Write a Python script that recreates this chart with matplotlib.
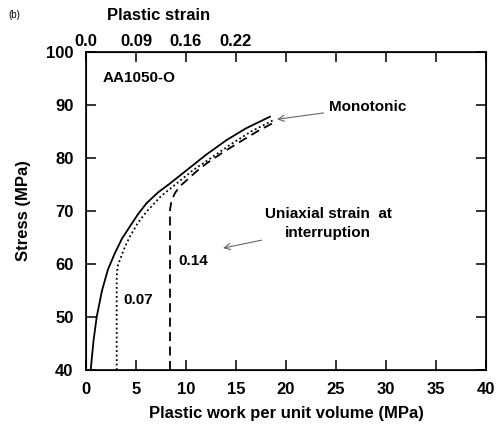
import numpy as np
import matplotlib.pyplot as plt

plt.rcParams['font.family'] = ['Liberation Sans', 'DejaVu Sans']
plt.rcParams['font.weight'] = 'bold'
plt.rcParams['font.size'] = 12

# monotonic curve (plastic work, stress)
mono_w = [0.47, 0.75, 1.07, 1.6, 2.2, 2.9, 3.6, 4.4, 5.2, 6.07, 7.2, 8.4, 10.07, 12.0, 14.07, 16.0, 18.4]
mono_s = [40.0, 45.5, 50.0, 55.0, 59.0, 62.1, 64.8, 67.1, 69.4, 71.5, 73.5, 75.2, 77.7, 80.6, 83.4, 85.6, 87.8]

# interrupted at strain 0.07
w07 = [3.07, 3.07, 3.15, 3.4, 3.9, 4.4, 5.2, 6.07, 7.5, 9.07, 10.7, 12.5, 14.5, 16.5, 18.8]
s07 = [40.0, 57.6, 59.5, 60.8, 63.3, 65.2, 67.8, 69.9, 72.8, 75.2, 77.7, 80.0, 82.6, 85.0, 87.2]

# interrupted at strain 0.14
w14 = [8.4, 8.4, 8.55, 8.9, 9.4, 10.07, 11.0, 12.07, 13.8, 15.7, 17.2, 18.9]
s14 = [40.0, 70.2, 71.9, 73.4, 74.7, 75.8, 77.4, 79.0, 81.2, 83.4, 85.1, 86.8]

top_ticks = [0, 5, 10, 15, 20, 25, 30, 35, 40]
top_labels = ['0.0', '0.09', '0.16', '0.22', '', '', '', '', '']

fig = plt.figure(figsize=(4.96, 4.26), dpi=100)
ax = fig.add_axes([86/496, 56/426, 400/496, 318/426])

ax.plot(mono_w, mono_s, color='black', lw=1.3)
ax.plot(w07, s07, color='black', lw=1.3, ls=(0, (1, 1.5)))
ax.plot(w14, s14, color='black', lw=1.3, ls=(0, (5, 3)))

ax.set_xlim(0, 40)
ax.set_ylim(40, 100)
ax.set_xticks(range(0, 41, 5))
ax.set_yticks(range(40, 101, 10))
ax.tick_params(direction='in', length=7, width=1.1, right=True, top=False,
               labelsize=12, pad=9)
ax.tick_params(axis='y', pad=9)
for sp in ax.spines.values():
    sp.set_linewidth(1.2)

ax.set_xlabel('Plastic work per unit volume (MPa)', fontsize=12, fontweight='bold', labelpad=6)
ax.set_ylabel('Stress (MPa)', fontsize=12, fontweight='bold', labelpad=11)

ax2 = ax.twiny()
ax2.set_xlim(0, 40)
ax2.set_xticks(top_ticks)
ax2.set_xticklabels(top_labels)
ax2.tick_params(direction='in', length=7, width=1.1, labelsize=12, pad=2)
fig.text(159/496, 1 - 15/426, 'Plastic strain', fontsize=12, fontweight='bold',
         ha='center', va='center')

ax.text(1.7, 95, 'AA1050-O', fontsize=11, fontweight='bold', va='center')
ax.text(3.7, 53.3, '0.07', fontsize=11, fontweight='bold', va='center')
ax.text(9.2, 60.5, '0.14', fontsize=11, fontweight='bold', va='center')

ax.annotate('Monotonic', xy=(19.1, 87.3), xytext=(24.3, 89.7),
            fontsize=11, fontweight='bold', va='center', ha='left',
            arrowprops=dict(arrowstyle='->', color='#666666', lw=0.8,
                            shrinkA=2, shrinkB=0, relpos=(0, 0.1)))
ax.annotate('Uniaxial strain  at\ninterruption', xy=(13.7, 63.0), xytext=(24.2, 67.6),
            fontsize=11, fontweight='bold', va='center', ha='center', linespacing=1.5,
            arrowprops=dict(arrowstyle='->', color='#666666', lw=0.8,
                            shrinkA=0, shrinkB=0, relpos=(0.12, 0.12)))

fig.text(8/496, 1 - 15/426, '(b)', fontsize=7, fontweight='normal', va='center')

fig.savefig('out.png', dpi=100)
